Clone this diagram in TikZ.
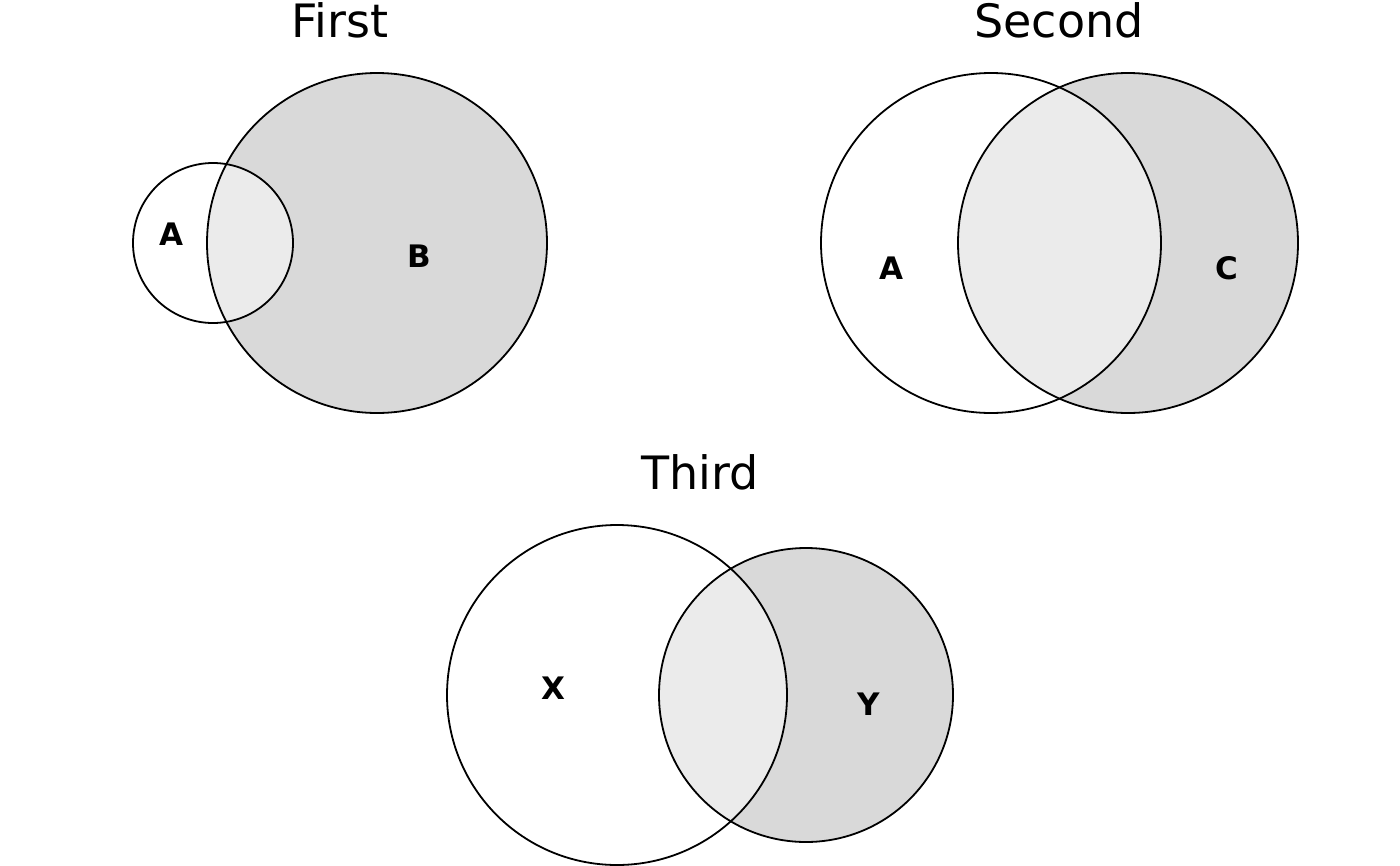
\documentclass[tikz,border=0pt]{standalone}
\usepackage{fontspec}
\setmainfont{DejaVu Sans}
\begin{document}
\begin{tikzpicture}[x=1pt,y=-1pt,
  ring/.style={draw=black,line width=1.8pt},
  ttl/.style={font=\fontsize{46}{52}\selectfont},
  lbl/.style={font=\bfseries\fontsize{31}{36}\selectfont}]
\useasboundingbox (0,0) rectangle (1400,865);
\definecolor{g1}{HTML}{D9D9D9}\definecolor{g2}{HTML}{EBEBEB}
% First
\fill[g1] (377,243) circle (170);
\begin{scope}\clip (377,243) circle (170); \fill[g2] (213,243) circle (80);\end{scope}
\draw[ring] (377,243) circle (170);
\draw[ring] (213,243) circle (80);
\node[ttl] (t1) at (340,20) {First};
\node[lbl] (a1) at (171,234) {A};
\node[lbl] (b1) at (419,256) {B};
% Second
\fill[g1] (1128,243) circle (170);
\begin{scope}\clip (1128,243) circle (170); \fill[g2] (991,243) circle (170);\end{scope}
\draw[ring] (991,243) circle (170);
\draw[ring] (1128,243) circle (170);
\node[ttl] (t2) at (1059,20) {Second};
\node[lbl] (a2) at (891,268) {A};
\node[lbl] (c2) at (1227,268) {C};
% Third
\fill[g1] (806,695) circle (147);
\begin{scope}\clip (806,695) circle (147); \fill[g2] (617,695) circle (170);\end{scope}
\draw[ring] (617,695) circle (170);
\draw[ring] (806,695) circle (147);
\node[ttl] (t3) at (700,472) {Third};
\node[lbl] (x3) at (553,688) {X};
\node[lbl] (y3) at (869,704) {Y};
\end{tikzpicture}
\end{document}
